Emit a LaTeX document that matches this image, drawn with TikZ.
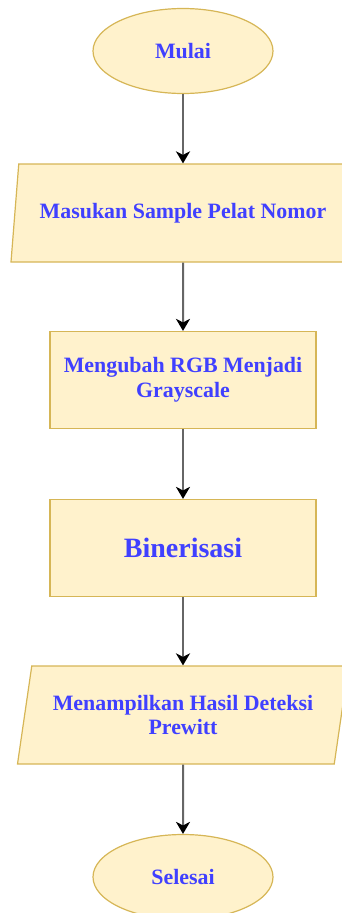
\documentclass[tikz,border=0pt]{standalone}
\usepackage{fontspec}
\setmainfont{Liberation Serif}
\usetikzlibrary{shapes.geometric,arrows.meta,positioning}
\definecolor{boxfill}{HTML}{FFF2CC}
\definecolor{boxline}{HTML}{D6B656}
\definecolor{labelblue}{HTML}{4040FF}

\begin{document}
\begin{tikzpicture}[x=1pt,y=1pt,on grid,
    base node/.style={draw=boxline,fill=boxfill,line width=1.2pt,text=labelblue,font=\bfseries\fontsize{21.9}{24.5}\selectfont,align=center,inner sep=2pt},
    term node/.style={base node,ellipse,minimum width=180pt,minimum height=85pt},
    io node/.style={base node,trapezium,trapezium left angle=72,trapezium right angle=108,trapezium stretches body,minimum height=98pt},
    proc node/.style={base node,rectangle,minimum width=266pt,minimum height=97pt}]
    \useasboundingbox (0,0) rectangle (342,-913);
    % \node[style] (number) [placement] {text};
    \node[term node] (0) at (183,-51) {Mulai};
    \node[io node,minimum width=344pt] (1) [below=162pt of 0] {Masukan Sample Pelat Nomor};
    \node[proc node] (2) [below=167pt of 1] {Mengubah RGB Menjadi\\Grayscale};
    \node[proc node,font=\bfseries\fontsize{28}{32}\selectfont] (3) [below=168pt of 2] {Binerisasi};
    \node[io node,minimum width=331pt] (4) [below=167pt of 3] {Menampilkan Hasil Deteksi\\Prewitt};
    \node[term node] (5) [below=162pt of 4] {Selesai};

    \path[draw=black!60,line width=2pt,-{Stealth[length=12pt,width=14pt,inset=3.5pt,black]}]
    (0) edge (1)
    (1) edge (2)
    (2) edge (3)
    (3) edge (4)
    (4) edge (5);
\end{tikzpicture}
\end{document}
